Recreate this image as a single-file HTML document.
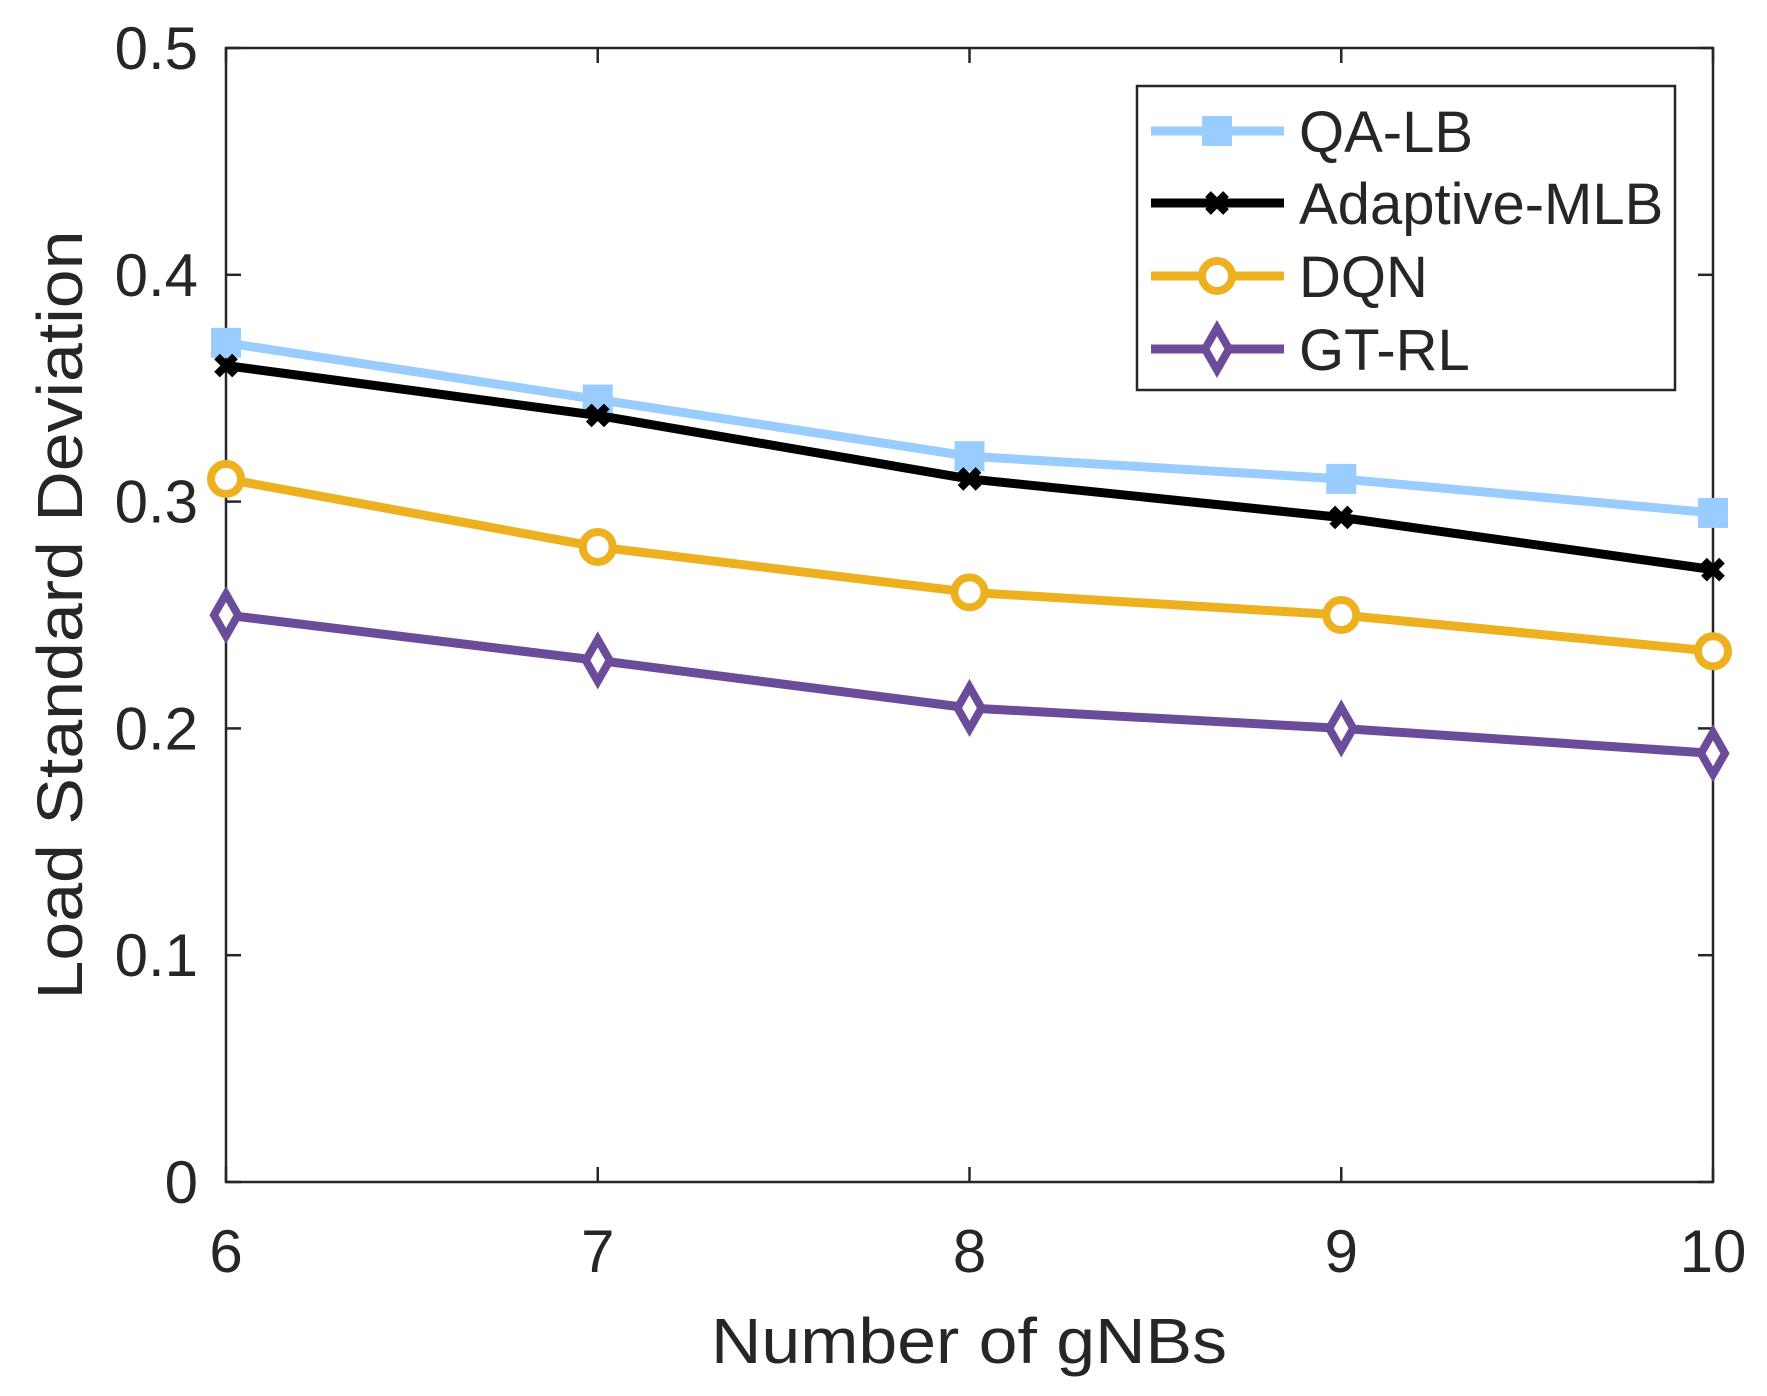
<!DOCTYPE html>
<html><head><meta charset="utf-8"><style>
html,body{margin:0;padding:0;background:#fff;}
svg{display:block;font-family:"Liberation Sans",Arial,sans-serif;}
</style></head><body>
<svg id="chart" width="1767" height="1396" viewBox="0 0 1767 1396">
<rect x="0" y="0" width="1767" height="1396" fill="#fff"/>
<g id="grid"></g>
<g id="series"></g>
<g id="legend"></g>
</svg>
<script>
const categories = [6, 7, 8, 9, 10];
const yTicks = [0, 0.1, 0.2, 0.3, 0.4, 0.5];
const yTickLabels = ["0", "0.1", "0.2", "0.3", "0.4", "0.5"];
const seriesNames = ["QA-LB", "Adaptive-MLB", "DQN", "GT-RL"];
const qaLB = [0.37, 0.345, 0.32, 0.31, 0.295];
const adaptiveMLB = [0.36, 0.338, 0.31, 0.293, 0.27];
const dqn = [0.31, 0.28, 0.26, 0.25, 0.234];
const gtRL = [0.25, 0.23, 0.209, 0.2, 0.189];

const L = 226, R = 1713, T = 48, B = 1182;
const xMin = 6, xMax = 10, yMin = 0, yMax = 0.5;
const xs = v => L + (v - xMin) / (xMax - xMin) * (R - L);
const ys = v => B - (v - yMin) / (yMax - yMin) * (B - T);
const NS = "http://www.w3.org/2000/svg";
function mk(tag, attrs, parent) {
  const e = document.createElementNS(NS, tag);
  for (const k in attrs) e.setAttribute(k, attrs[k]);
  parent.appendChild(e);
  return e;
}
const grid = document.getElementById('grid');
const seriesG = document.getElementById('series');
const legendG = document.getElementById('legend');
const axisColor = "#262626";

const box = mk('rect', {x: L, y: T, width: R - L, height: B - T, fill: 'none', stroke: axisColor, 'stroke-width': 2.5}, grid);



categories.forEach((c, i) => {
  const x = xs(c);
  const t1 = mk('line', {x1: x, x2: x, y1: B, y2: B - 15, stroke: axisColor, 'stroke-width': 2.5}, grid);
  
  
  const t2 = mk('line', {x1: x, x2: x, y1: T, y2: T + 15, stroke: axisColor, 'stroke-width': 2.5}, grid);
  
  
  const lb = mk('text', {x: x, y: 1272, 'text-anchor': 'middle', 'font-size': 60, fill: axisColor}, grid);
  lb.textContent = String(c);
  
  
});
yTicks.forEach((v, i) => {
  const y = ys(v);
  const t1 = mk('line', {x1: L, x2: L + 15, y1: y, y2: y, stroke: axisColor, 'stroke-width': 2.5}, grid);
  
  
  const t2 = mk('line', {x1: R, x2: R - 15, y1: y, y2: y, stroke: axisColor, 'stroke-width': 2.5}, grid);
  
  
  const lb = mk('text', {x: L - 28, y: y + 21, 'text-anchor': 'end', 'font-size': 60, fill: axisColor}, grid);
  lb.textContent = yTickLabels[i];
  
  
});
const xt = mk('text', {x: 969, y: 1363, 'text-anchor': 'middle', 'font-size': 64, fill: axisColor, textLength: 516, lengthAdjust: 'spacingAndGlyphs'}, grid);
xt.textContent = "Number of gNBs";


const yt = mk('text', {x: 0, y: 0, 'text-anchor': 'middle', 'font-size': 64, fill: axisColor, textLength: 769, lengthAdjust: 'spacingAndGlyphs', transform: 'translate(82,615) rotate(-90)'}, grid);
yt.textContent = "Load Standard Deviation";



const colors = ["#99CCFF", "#000000", "#EDB120", "#6B4C9A"];
const markers = ["square", "x", "circle", "diamond"];
const data = [qaLB, adaptiveMLB, dqn, gtRL];

function marker(type, x, y, color, parent) {
  let e;
  if (type === 'square') {
    e = mk('rect', {x: x - 14, y: y - 14, width: 28, height: 28, fill: color, stroke: color, 'stroke-width': 2}, parent);
  } else if (type === 'x') {
    e = mk('path', {d: `M${x-9},${y-9}L${x+9},${y+9}M${x-9},${y+9}L${x+9},${y-9}`, stroke: color, 'stroke-width': 8, fill: 'none'}, parent);
  } else if (type === 'circle') {
    e = mk('circle', {cx: x, cy: y, r: 15, fill: '#fff', stroke: color, 'stroke-width': 8}, parent);
  } else {
    e = mk('path', {d: `M${x},${y-21}L${x+12},${y}L${x},${y+21}L${x-12},${y}Z`, fill: '#fff', stroke: color, 'stroke-width': 8}, parent);
  }
  return e;
}

data.forEach((vals, si) => {
  const g = mk('g', {}, seriesG);
  
  
  const pts = vals.map((v, i) => xs(categories[i]) + ',' + ys(v)).join(' ');
  const pl = mk('polyline', {points: pts, fill: 'none', stroke: colors[si], 'stroke-width': 9, 'stroke-linejoin': 'round'}, g);
  
  
  vals.forEach((v, i) => {
    const m = marker(markers[si], xs(categories[i]), ys(v), colors[si], g);
    
    
  });
});

const lbox = mk('rect', {x: 1137, y: 86, width: 538, height: 304, fill: '#fff', stroke: axisColor, 'stroke-width': 2.5}, legendG);


const rowY = [131, 203, 276, 349];
seriesNames.forEach((n, si) => {
  const g = mk('g', {}, legendG);
  
  
  const y = rowY[si];
  mk('line', {x1: 1151, x2: 1284, y1: y, y2: y, stroke: colors[si], 'stroke-width': 9}, g);
  marker(markers[si], 1217, y, colors[si], g);
  const t = mk('text', {x: 1299, y: y + 21, 'font-size': 58, fill: axisColor}, g);
  t.textContent = n;
});
</script>
</body></html>
